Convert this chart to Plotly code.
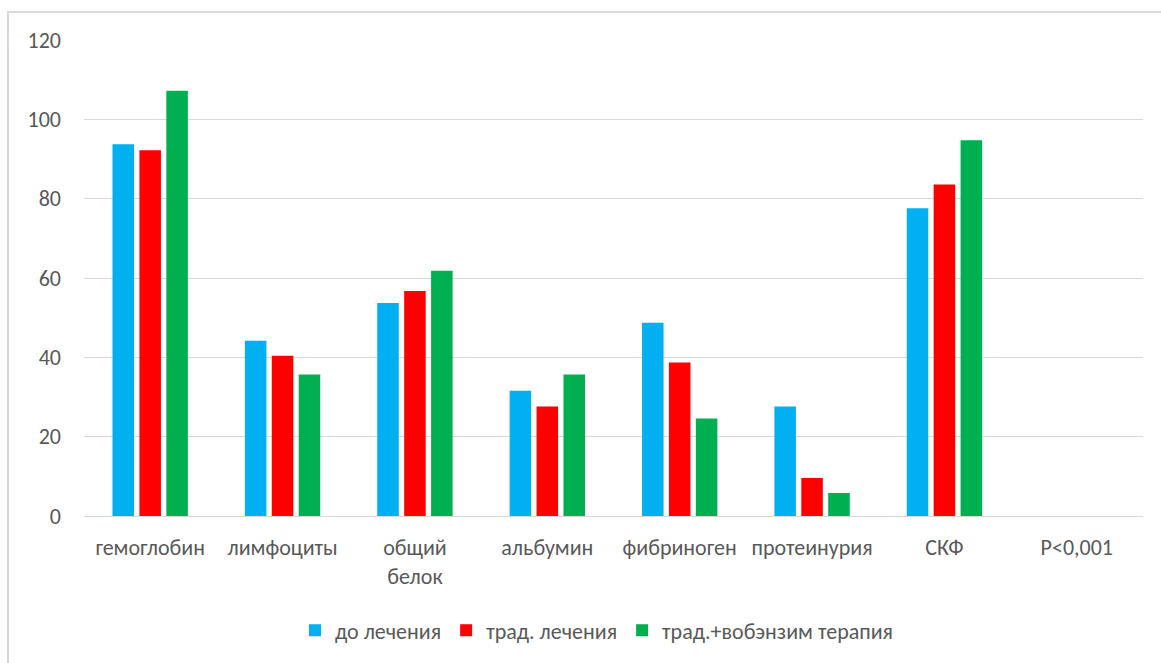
import plotly.graph_objects as go

categories = ["гемоглобин", "лимфоциты", "общий<br>белок", "альбумин", "фибриноген", "протеинурия", "СКФ", "P<0,001"]
series_names = ["до лечения", "трад. лечения", "трад.+вобэнзим терапия"]
before = [93.7, 44.2, 53.7, 31.6, 48.7, 27.6, 77.6, None]
trad = [92.2, 40.4, 56.7, 27.6, 38.7, 9.6, 83.6, None]
trad_wob = [107.2, 35.7, 61.8, 35.7, 24.6, 5.8, 94.7, None]
colors = ["#00B0F0", "#FF0000", "#00B050"]
y_ticks = [0, 20, 40, 60, 80, 100, 120]

FONT = "Carlito, Calibri, Lato, sans-serif"
TXT = "#595959"
FS = 22

fig = go.Figure()
for name, vals, c in zip(series_names, [before, trad, trad_wob], colors):
    fig.add_trace(go.Bar(x=categories, y=vals, name=name,
                         marker=dict(color=c, line=dict(width=0))))

L, R, T, B = 84, 18, 40, 145
W, H = 1161, 663
pw, ph = W - L - R, H - T - B

fig.update_layout(
    width=W, height=H,
    margin=dict(l=L, r=R, t=T, b=B),
    paper_bgcolor="white", plot_bgcolor="white",
    barmode="group", bargap=0.39, bargroupgap=0.2,
    font=dict(family=FONT, size=FS, color=TXT),
    legend=dict(orientation="h", x=(597 - L) / pw, xanchor="center",
                y=(518 - 633) / ph, yanchor="middle",
                font=dict(family=FONT, size=FS, color=TXT),
                itemwidth=30, tracegroupgap=0),
    xaxis=dict(showgrid=False, showline=True, linecolor="#D9D9D9", linewidth=1,
               ticks="", tickfont=dict(family=FONT, size=FS, color=TXT),
               ticklabelstandoff=12),
    yaxis=dict(range=[0, 120], tickvals=y_ticks, showgrid=True, gridcolor="#D9D9D9",
               gridwidth=1, zeroline=False, showline=False, ticks="",
               tickfont=dict(family=FONT, size=FS, color=TXT),
               ticklabelstandoff=22),
    shapes=[dict(type="rect", xref="paper", yref="paper",
                 x0=(8 - L) / pw, x1=(W + 10 - L) / pw,
                 y0=(518 - H - 10) / ph, y1=(518 - 12) / ph,
                 line=dict(color="#D9D9D9", width=2), fillcolor="rgba(0,0,0,0)",
                 layer="below")],
)

fig.write_html("out.html")
